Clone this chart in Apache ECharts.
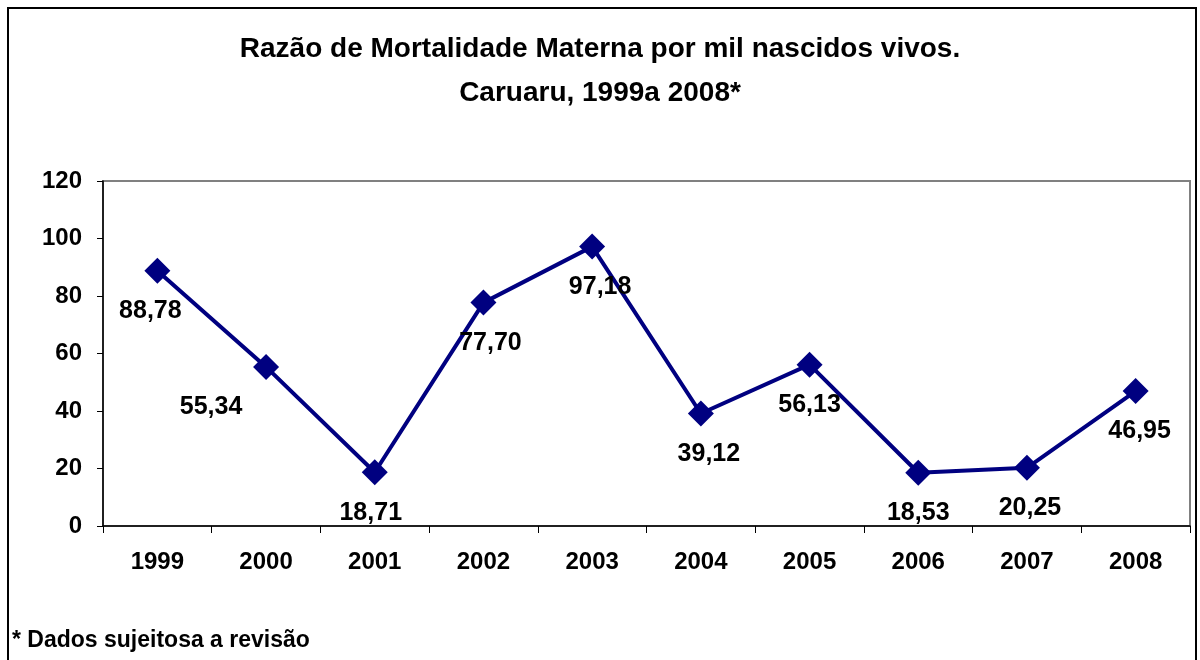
<!DOCTYPE html>
<html>
<head>
<meta charset="utf-8">
<script src="https://cdn.jsdelivr.net/npm/echarts@6/dist/echarts.min.js"></script>
<style>
  html, body { margin: 0; padding: 0; background: #fff; }
  #chart { width: 1200px; height: 660px; }
</style>
</head>
<body>
<div id="chart"></div>
<script>
// dados do gráfico
var anos = ['1999', '2000', '2001', '2002', '2003', '2004', '2005', '2006', '2007', '2008'];
var razao = [88.78, 55.34, 18.71, 77.70, 97.18, 39.12, 56.13, 18.53, 20.25, 46.95];
var deslocX = [-7, -55, -4, 7, 8, 8, 0, 0, 3, 4];

var chart = echarts.init(document.getElementById('chart'));

var fonte = 'Liberation Sans, Arial, sans-serif';

var pontos = razao.map(function (v, i) {
    return {
        value: v,
        label: { offset: [deslocX[i], 0] }
    };
});

var option = {
    backgroundColor: '#fff',
    animation: false,
    title: {
        text: 'Razão de Mortalidade Materna por mil nascidos vivos.\nCaruaru, 1999a 2008*',
        left: 'center',
        top: 22,
        textStyle: {
            fontFamily: fonte,
            fontSize: 28,
            fontWeight: 'bold',
            color: '#000',
            lineHeight: 44
        }
    },
    graphic: [
        {
            // moldura externa
            type: 'rect',
            shape: { x: 8, y: 8, width: 1188, height: 680 },
            style: { fill: 'none', stroke: '#000', lineWidth: 2 },
            silent: true
        },
        {
            type: 'text',
            left: 12,
            top: 629,
            style: {
                text: '* Dados sujeitosa a revisão',
                fontFamily: fonte,
                fontSize: 23,
                fontWeight: 'bold',
                fill: '#000'
            }
        }
    ],
    grid: {
        left: 103,
        right: 10,
        top: 181,
        bottom: 134,
        show: true,
        borderColor: '#808080',
        borderWidth: 2,
        backgroundColor: '#fff'
    },
    xAxis: {
        type: 'category',
        data: anos,
        boundaryGap: true,
        axisLine: { lineStyle: { color: '#000', width: 1.5 } },
        axisTick: { show: true, length: 7, inside: false, lineStyle: { color: '#000' } },
        axisLabel: {
            margin: 24,
            fontFamily: fonte,
            fontSize: 24,
            fontWeight: 'bold',
            color: '#000'
        }
    },
    yAxis: {
        type: 'value',
        min: 0,
        max: 120,
        interval: 20,
        splitLine: { show: false },
        axisLine: { show: true, lineStyle: { color: '#000', width: 1.5 } },
        axisTick: { show: true, length: 6, lineStyle: { color: '#000' } },
        axisLabel: {
            margin: 21,
            fontFamily: fonte,
            fontSize: 24,
            fontWeight: 'bold',
            color: '#000'
        }
    },
    series: [{
        type: 'line',
        data: pontos,
        symbol: 'diamond',
        symbolSize: 26,
        lineStyle: { color: '#000080', width: 4 },
        itemStyle: { color: '#000080' },
        label: {
            show: true,
            position: 'bottom',
            distance: 15,
            fontFamily: fonte,
            fontSize: 25,
            fontWeight: 'bold',
            color: '#000',
            formatter: function (p) {
                return p.value.toFixed(2).replace('.', ',');
            }
        }
    }]
};

chart.setOption(option);
</script>
</body>
</html>
